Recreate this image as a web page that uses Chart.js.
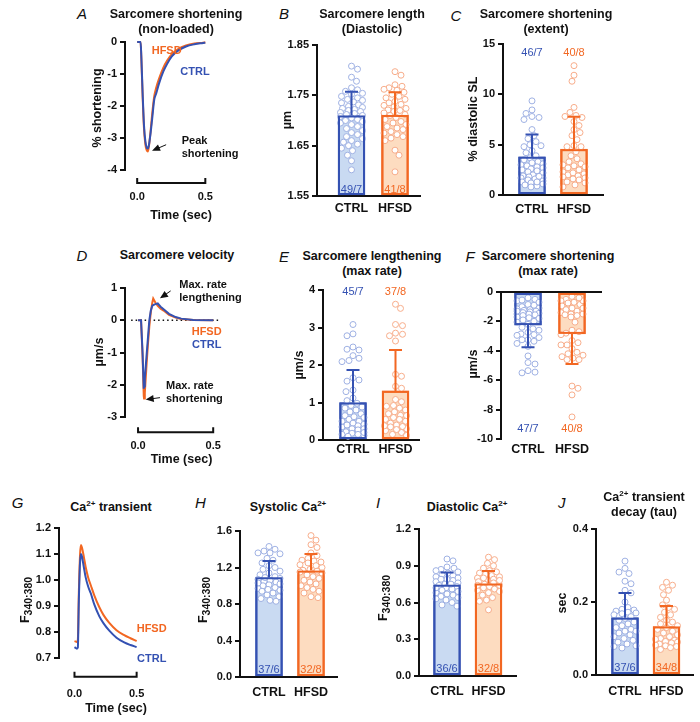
<!DOCTYPE html>
<html>
<head>
<meta charset="utf-8">
<script src="https://cdn.jsdelivr.net/npm/chart.js@4.4.1/dist/chart.umd.min.js"></script>
<style>
  body { margin: 0; width: 700px; height: 722px; position: relative; overflow: hidden; background: #fff;
         font-family: "Liberation Sans", Arial, Helvetica, sans-serif; color: #111; }
  canvas { position: absolute; }
  .t { position: absolute; z-index: 2; font-weight: bold; font-size: 12.5px; line-height: 15px; white-space: nowrap;
       text-align: center; transform: translate(-50%, -50%); }
  .L { position: absolute; z-index: 2; font-style: italic; font-size: 15px; transform: translate(-50%, -50%); }
  .yt { position: absolute; z-index: 2; font-weight: bold; font-size: 12.5px; white-space: nowrap;
        transform: translate(-50%, -50%) rotate(-90deg); }
  .an { position: absolute; z-index: 2; font-weight: bold; font-size: 11px; line-height: 13.3px; white-space: nowrap;
        transform: translateY(-50%); }
  .lb { position: absolute; z-index: 2; font-weight: bold; font-size: 11px; white-space: nowrap; transform: translate(-50%, -50%); }
  sup { font-size: 8px; line-height: 0; vertical-align: 5px; }
  sub { font-size: 10.5px; line-height: 0; vertical-align: -3px; }
  .ctrl { color: #3451b2; }
  .hfsd { color: #f26722; }
</style>
</head>
<body>

<script>
// ---------- data ----------
const groups = ['CTRL', 'HFSD'];

// A: sarcomere shortening trace (%)
const aTime = [0, 0.025, 0.03, 0.04, 0.05, 0.06, 0.07, 0.078, 0.085, 0.098, 0.11, 0.125, 0.14, 0.16, 0.192, 0.22, 0.254, 0.3, 0.358, 0.42, 0.483, 0.5];
const aCtrl = [0, 0, -0.4, -1.6, -2.6, -3.1, -3.3, -3.33, -3.25, -2.86, -2.4, -1.81, -1.6, -1.3, -0.92, -0.68, -0.45, -0.27, -0.14, -0.07, -0.03, -0.02];
const aHfsd = [0, 0, -0.45, -1.7, -2.7, -3.2, -3.38, -3.42, -3.3, -2.8, -2.25, -1.7, -1.42, -1.15, -0.8, -0.58, -0.38, -0.22, -0.11, -0.05, -0.02, -0.01];
const aTicks = [0, -1, -2, -3, -4];
const aArrow = [0.2125, -3.21, 0.109, -3.4];

// B: diastolic sarcomere length (µm)
const bTicks = [1.55, 1.65, 1.75, 1.85];
const bMean = [1.710, 1.711];
const bSd = [0.047, 0.045];
const bN = ['49/7', '41/8'];
const bCtrl = [1.808, 1.802, 1.786, 1.778, 1.765, 1.761, 1.758, 1.754, 1.752, 1.748, 1.745, 1.742, 1.740, 1.737, 1.735, 1.731, 1.728, 1.726, 1.724, 1.722, 1.720, 1.718, 1.716, 1.714, 1.712, 1.710, 1.708, 1.705, 1.702, 1.698, 1.695, 1.692, 1.688, 1.684, 1.680, 1.676, 1.672, 1.668, 1.664, 1.660, 1.657, 1.653, 1.650, 1.645, 1.640, 1.631, 1.620, 1.602, 1.700];
const bHfsd = [1.797, 1.790, 1.771, 1.768, 1.765, 1.762, 1.760, 1.756, 1.752, 1.748, 1.745, 1.742, 1.738, 1.735, 1.732, 1.730, 1.727, 1.724, 1.721, 1.718, 1.715, 1.712, 1.710, 1.706, 1.702, 1.698, 1.695, 1.692, 1.688, 1.685, 1.682, 1.678, 1.675, 1.672, 1.668, 1.665, 1.660, 1.641, 1.631, 1.598, 1.720];

// C: shortening extent (% diastolic SL)
const cTicks = [0, 5, 10, 15];
const cMean = [3.8, 4.55];
const cSd = [2.2, 3.23];
const cN = ['46/7', '40/8'];
const cCtrl = [9.35, 8.45, 8.1, 7.8, 7.7, 7.5, 6.5, 5.9, 5.6, 5.3, 5.0, 4.9, 4.8, 4.4, 4.2, 3.9, 3.7, 3.5, 3.3, 3.1, 3.0, 2.9, 2.7, 2.6, 2.5, 2.3, 2.2, 2.0, 1.9, 1.8, 1.7, 1.7, 1.6, 1.5, 1.4, 1.3, 1.2, 1.1, 1.0, 0.9, 0.8, 3.2, 2.8, 2.4, 1.85, 1.3];
const cHfsd = [12.85, 11.9, 11.3, 8.7, 8.2, 7.9, 7.8, 7.7, 7.3, 6.9, 6.5, 6.2, 5.9, 5.5, 4.9, 4.8, 4.8, 4.3, 3.9, 3.6, 3.3, 3.1, 3.0, 2.8, 2.7, 2.5, 2.3, 2.1, 2.0, 1.9, 1.8, 1.7, 1.5, 1.3, 1.2, 1.0, 0.8, 2.9, 2.2, 1.6];

// D: sarcomere velocity trace (µm/s)
const dTime = [0, 0.02, 0.03, 0.038, 0.04, 0.045, 0.055, 0.065, 0.075, 0.085, 0.095, 0.101, 0.115, 0.131, 0.15, 0.17, 0.206, 0.25, 0.287, 0.368, 0.5];
const dCtrl = [0, 0, -1.0, -2.12, -2.05, -1.8, -1.2, -0.6, 0, 0.3, 0.45, 0.47, 0.5, 0.52, 0.42, 0.34, 0.2, 0.1, 0.05, 0.01, 0];
const dHfsd = [0, 0, -1.1, -2.35, -2.43, -2.25, -1.5, -0.8, -0.2, 0.25, 0.55, 0.67, 0.55, 0.45, 0.36, 0.3, 0.17, 0.08, 0.04, 0.01, 0];
const dZero = [-0.046, 0.55];
const dTicks = [1, 0, -1, -2, -3];
const dArrowUp = [0.217, 0.91, 0.146, 0.68];
const dArrowDown = [0.146, -2.40, 0.051, -2.46];

// E: max lengthening rate (µm/s)
const eTicks = [0, 1, 2, 3, 4];
const eMean = [1.0, 1.31];
const eSd = [0.87, 1.09];
const eN = ['45/7', '37/8'];
const eCtrl = [3.08, 2.83, 2.78, 2.48, 2.42, 2.4, 2.25, 2.18, 2.12, 2.09, 1.66, 1.6, 1.57, 1.33, 1.29, 1.12, 1.05, 0.98, 0.92, 0.85, 0.8, 0.75, 0.7, 0.65, 0.6, 0.55, 0.5, 0.45, 0.42, 0.38, 0.35, 0.3, 0.27, 0.22, 0.18, 0.15, 0.12, 0.1, 0.62, 0.4, 0.3, 0.2, 0.88, 0.5, 0.15];
const eHfsd = [3.62, 3.51, 3.08, 3.05, 2.85, 2.82, 2.78, 2.64, 1.75, 1.7, 1.43, 1.38, 1.08, 1.02, 0.92, 0.85, 0.8, 0.75, 0.7, 0.65, 0.6, 0.55, 0.5, 0.45, 0.4, 0.35, 0.3, 0.25, 0.2, 0.15, 0.12, 0.66, 0.38, 0.36, 0.28, 0.9, 0.55];

// F: max shortening rate (µm/s)
const fTicks = [0, -2, -4, -6, -8, -10];
const fMean = [-2.25, -2.85];
const fSd = [1.5, 2.04];
const fN = ['47/7', '40/8'];
const fCtrl = [-0.4, -0.5, -0.6, -0.7, -0.85, -1.0, -1.1, -1.2, -1.25, -1.3, -1.35, -1.4, -1.45, -1.5, -1.55, -1.6, -1.7, -1.8, -1.9, -2.0, -2.05, -2.2, -2.4, -2.6, -2.75, -2.85, -2.95, -3.1, -3.25, -3.35, -3.5, -3.7, -4.35, -4.8, -4.9, -5.35, -5.45, -5.5, -1.15, -1.5, -0.55, -2.5, -3.25, -1.3, -0.9, -1.75, -2.9];
const fHfsd = [-0.3, -0.5, -0.6, -0.7, -0.75, -0.85, -0.95, -1.1, -1.2, -1.3, -1.4, -1.5, -1.55, -1.6, -1.7, -2.05, -2.6, -2.7, -2.8, -2.9, -3.3, -3.45, -3.6, -3.85, -4.1, -4.2, -4.3, -4.4, -4.5, -4.6, -4.6, -6.4, -6.55, -7.0, -8.5, -0.6, -1.5, -0.4, -1.1, -3.6];

// G: Ca2+ transient trace (F340:380)
const gTime = [0, 0.02, 0.027, 0.035, 0.045, 0.052, 0.06, 0.075, 0.09, 0.11, 0.131, 0.16, 0.2, 0.234, 0.28, 0.338, 0.4, 0.45, 0.5];
const gCtrl = [0.742, 0.736, 0.74, 0.92, 1.07, 1.1, 1.09, 1.05, 1.01, 0.975, 0.949, 0.905, 0.86, 0.833, 0.805, 0.778, 0.76, 0.75, 0.742];
const gHfsd = [0.765, 0.762, 0.77, 0.95, 1.1, 1.135, 1.125, 1.09, 1.05, 1.01, 0.98, 0.94, 0.895, 0.865, 0.835, 0.807, 0.788, 0.776, 0.765];
const gTicks = [0.7, 0.8, 0.9, 1.0, 1.1, 1.2];

// H: systolic Ca2+
const hTicks = [0, 0.4, 0.8, 1.2, 1.6];
const hMean = [1.093, 1.166];
const hSd = [0.177, 0.182];
const hN = ['37/6', '32/8'];
const hCtrl = [1.43, 1.4, 1.38, 1.36, 1.36, 1.35, 1.3, 1.28, 1.25, 1.22, 1.2, 1.18, 1.16, 1.14, 1.12, 1.1, 1.08, 1.07, 1.06, 1.05, 1.04, 1.02, 1.01, 1.0, 0.98, 0.97, 0.95, 0.94, 0.92, 0.9, 0.88, 0.86, 0.84, 0.83, 1.09, 0.96, 1.03];
const hHfsd = [1.55, 1.5, 1.45, 1.42, 1.36, 1.33, 1.3, 1.28, 1.27, 1.25, 1.23, 1.22, 1.2, 1.18, 1.17, 1.15, 1.14, 1.12, 1.1, 1.08, 1.06, 1.04, 1.02, 1.0, 0.98, 0.96, 0.94, 0.92, 0.88, 0.87, 1.16, 1.26];

// I: diastolic Ca2+
const iTicks = [0, 0.3, 0.6, 0.9, 1.2];
const iMean = [0.745, 0.755];
const iSd = [0.1, 0.102];
const iN = ['36/6', '32/8'];
const iCtrl = [0.955, 0.94, 0.89, 0.88, 0.87, 0.86, 0.85, 0.84, 0.83, 0.82, 0.81, 0.8, 0.79, 0.78, 0.77, 0.76, 0.75, 0.74, 0.73, 0.72, 0.71, 0.70, 0.69, 0.68, 0.67, 0.66, 0.65, 0.64, 0.63, 0.62, 0.6, 0.58, 0.57, 0.79, 0.75, 0.72];
const iHfsd = [0.97, 0.95, 0.92, 0.9, 0.88, 0.86, 0.85, 0.84, 0.83, 0.82, 0.81, 0.8, 0.79, 0.78, 0.77, 0.76, 0.75, 0.74, 0.73, 0.72, 0.71, 0.7, 0.69, 0.68, 0.66, 0.64, 0.62, 0.61, 0.54, 0.78, 0.74, 0.8];

// J: Ca2+ transient decay tau (sec)
const jTicks = [0, 0.2, 0.4];
const jMean = [0.157, 0.133];
const jSd = [0.068, 0.056];
const jN = ['37/6', '34/8'];
const jCtrl = [0.312, 0.292, 0.282, 0.278, 0.257, 0.25, 0.232, 0.225, 0.2, 0.185, 0.18, 0.178, 0.175, 0.172, 0.17, 0.165, 0.16, 0.155, 0.15, 0.145, 0.14, 0.135, 0.13, 0.125, 0.12, 0.115, 0.11, 0.105, 0.1, 0.095, 0.09, 0.085, 0.08, 0.078, 0.074, 0.168, 0.12];
const jHfsd = [0.254, 0.246, 0.24, 0.232, 0.22, 0.205, 0.192, 0.185, 0.18, 0.172, 0.165, 0.158, 0.15, 0.145, 0.14, 0.135, 0.13, 0.125, 0.12, 0.115, 0.11, 0.105, 0.1, 0.095, 0.092, 0.09, 0.088, 0.085, 0.082, 0.08, 0.078, 0.075, 0.07, 0.098];

// ---------- styling / layout ----------
Chart.defaults.font.family = '"Liberation Sans", Arial, Helvetica, sans-serif';
Chart.defaults.color = '#111';
Chart.defaults.animation = false;

const INK = '#111';
const BLUE = '#3451b2', ORANGE = '#f26722';
const BLUE_FILL = '#c9daf2', ORANGE_FILL = '#fddcc0';
const BLUE_DOT = '#9fb1e3', ORANGE_DOT = '#f7ad8b';
const YW = 42, XH = 50, PT = 10, PR = 12;

// plot-area boxes in page pixels (x0/x1 axis span, yt/yb top/bottom, c0/c1 bar centres, t0/t1 = time 0 / 0.5)
const boxA = {x0: 125, x1: 222, yt: 42, yb: 170, t0: 139.3, t1: 219.3};
const boxB = {x0: 317, x1: 420, yt: 45, yb: 196, c0: 351.5, c1: 395};
const boxC = {x0: 503, x1: 603, yt: 44, yb: 195, c0: 532, c1: 574};
const boxD = {x0: 125, x1: 232, yt: 288, yb: 417, t0: 139.3, t1: 221.7};
const boxE = {x0: 323, x1: 419, yt: 290, yb: 440, c0: 353, c1: 395.5};
const boxF = {x0: 501, x1: 602, yt: 292, yb: 439, c0: 528, c1: 572};
const boxG = {x0: 59, x1: 162, yt: 528, yb: 658, t0: 79, t1: 159.3};
const boxH = {x0: 240, x1: 337, yt: 531, yb: 677, c0: 269, c1: 311};
const boxI = {x0: 419, x1: 516, yt: 529, yb: 676, c0: 447, c1: 488.5};
const boxJ = {x0: 596, x1: 693, yt: 529, yb: 675, c0: 625, c1: 666.5};

function canvasFor(box) {
  const c = document.createElement('canvas');
  c.width = Math.round(box.x1 - box.x0 + YW + PR);
  c.height = Math.round(box.yb - box.yt + PT + XH);
  c.style.left = (box.x0 - YW) + 'px';
  c.style.top = (box.yt - PT) + 'px';
  document.body.appendChild(c);
  return c;
}

function yScale(ticks, dec, zeroLine) {
  return {
    min: Math.min(...ticks), max: Math.max(...ticks),
    beginAtZero: false,
    afterFit: s => { s.width = YW; },
    afterBuildTicks: s => { s.ticks = ticks.map(v => ({value: v})); },
    ticks: {callback: v => Number(v).toFixed(dec), font: {size: 11, weight: 'bold'}, color: INK, padding: 3},
    grid: {
      drawOnChartArea: !!zeroLine,
      color: c => (zeroLine && c.tick && c.tick.value === 0) ? INK : 'rgba(0,0,0,0)',
      lineWidth: 2, tickLength: 5, tickWidth: 2, tickColor: INK
    },
    border: {color: INK, width: 2}
  };
}

// horizontal spread of dots so they do not sit on top of each other
function swarm(vals, pxPerY, halfW) {
  const d = 6.2;
  const order = vals.map((v, i) => i).sort((a, b) => vals[b] - vals[a]);
  const placed = [];
  const out = new Array(vals.length);
  order.forEach((i, n) => {
    const y = vals[i] * pxPerY;
    let best = 0, bestCost = Infinity;
    for (let s = 0; s <= halfW; s += 1) {
      const cands = n % 2 ? [s, -s] : [-s, s];
      for (const x of cands) {
        let cost = 0;
        for (const p of placed) {
          const dist = Math.hypot(p.x - x, p.y - y);
          if (dist < d) cost += d - dist;
        }
        if (cost < bestCost - 1e-6) { bestCost = cost; best = x; }
        if (cost === 0) break;
      }
      if (bestCost === 0) break;
    }
    placed.push({x: best, y});
    out[i] = best;
  });
  return out;
}

function barPanel(box, ticks, dec, means, sds, pts, counts, countY, xPad, zeroLine) {
  const unit = box.c1 - box.c0;
  const yMin = Math.min(...ticks), yMax = Math.max(...ticks);
  const pxPerY = (box.yb - box.yt) / (yMax - yMin);
  const datasets = [{
    type: 'bar', order: 2,
    data: means.map((m, i) => ({x: i, y: m})),
    base: yMin > 0 ? yMin : 0,
    backgroundColor: [BLUE_FILL, ORANGE_FILL],
    borderColor: [BLUE, ORANGE], borderWidth: 2, borderSkipped: false,
    barThickness: 27
  }];
  pts.forEach((vals, g) => {
    const off = swarm(vals, pxPerY, 11);
    datasets.push({
      type: 'scatter', order: 1, clip: false,
      data: vals.map((v, k) => ({x: g + off[k] / unit, y: v})),
      pointRadius: 3, pointBorderWidth: 1, pointHoverRadius: 3,
      pointBackgroundColor: '#fff', pointBorderColor: g ? ORANGE_DOT : BLUE_DOT
    });
  });
  const extras = {
    id: 'extras',
    afterDatasetsDraw(chart) {
      const {ctx} = chart, xs = chart.scales.x, ys = chart.scales.y;
      const meta = chart.getDatasetMeta(0);
      ctx.save();
      means.forEach((m, i) => {
        const col = i ? ORANGE : BLUE;
        const bar = meta.data[i];
        const top = Math.min(bar.y, bar.base), bot = Math.max(bar.y, bar.base);
        ctx.strokeStyle = col; ctx.lineWidth = 2;
        ctx.strokeRect(bar.x - bar.width / 2 + 1, top + 1, bar.width - 2, bot - top - 2);
        const x = xs.getPixelForValue(i);
        const sign = m < 0 ? -1 : 1;
        const y0 = ys.getPixelForValue(m), y1 = ys.getPixelForValue(m + sign * sds[i]);
        ctx.beginPath();
        ctx.moveTo(x, y0); ctx.lineTo(x, y1);
        ctx.moveTo(x - 6.5, y1); ctx.lineTo(x + 6.5, y1);
        ctx.stroke();
        ctx.fillStyle = col;
        ctx.font = '11px "Liberation Sans", Arial, sans-serif';
        ctx.textAlign = 'center'; ctx.textBaseline = 'middle';
        ctx.fillText(counts[i], x, ys.getPixelForValue(countY));
      });
      ctx.restore();
    }
  };
  new Chart(canvasFor(box), {
    type: 'bar',
    data: {datasets},
    options: {
      responsive: false,
      layout: {padding: {top: PT, right: PR, left: 0, bottom: 0}},
      plugins: {legend: {display: false}, tooltip: {enabled: false}},
      scales: {
        x: {
          type: 'linear', offset: false,
          min: -(box.c0 - box.x0) / unit, max: (box.x1 - box.c0) / unit,
          afterFit: s => { s.height = XH; },
          afterBuildTicks: s => { s.ticks = [{value: 0}, {value: 1}]; },
          ticks: {callback: v => groups[Math.round(v)], font: {size: 12.5, weight: 'bold'}, color: INK, padding: xPad, maxRotation: 0, autoSkip: false},
          grid: {display: false, drawTicks: false, offset: false},
          border: {display: !zeroLine, color: INK, width: 2}
        },
        y: yScale(ticks, dec, zeroLine)
      }
    },
    plugins: [extras]
  });
}

function linePanel(box, time, ctrl, hfsd, ticks, dec, opt) {
  const pxPerT = (box.t1 - box.t0) / 0.5;
  const datasets = [
    {data: time.map((t, i) => ({x: t, y: ctrl[i]})), borderColor: BLUE, borderWidth: 2},
    {data: time.map((t, i) => ({x: t, y: hfsd[i]})), borderColor: ORANGE, borderWidth: 2}
  ];
  if (opt.zero) datasets.push({data: opt.zero.map(t => ({x: t, y: 0})), borderColor: INK, borderWidth: 1.5, borderDash: [1.5, 3]});
  datasets.forEach(d => Object.assign(d, {pointRadius: 0, tension: opt.tension, cubicInterpolationMode: opt.mono ? 'monotone' : 'default', clip: false, fill: false}));
  const deco = {
    id: 'deco',
    afterDatasetsDraw(chart) {
      const {ctx, chartArea} = chart, xs = chart.scales.x, ys = chart.scales.y;
      ctx.save();
      ctx.strokeStyle = INK; ctx.fillStyle = INK; ctx.lineWidth = 2;
      // detached time-axis bracket
      const yb = chartArea.bottom + opt.brOff;
      const a = xs.getPixelForValue(0), b = xs.getPixelForValue(0.5);
      ctx.beginPath();
      ctx.moveTo(a, yb - 5); ctx.lineTo(a, yb); ctx.lineTo(b, yb); ctx.lineTo(b, yb - 5);
      ctx.stroke();
      // annotation arrows [tail t, tail y, tip t, tip y]
      ctx.lineWidth = 1;
      (opt.arrows || []).forEach(ar => {
        const x0 = xs.getPixelForValue(ar[0]), y0 = ys.getPixelForValue(ar[1]);
        const x1 = xs.getPixelForValue(ar[2]), y1 = ys.getPixelForValue(ar[3]);
        const ang = Math.atan2(y1 - y0, x1 - x0), L = 8, W = 3.5;
        ctx.beginPath(); ctx.moveTo(x0, y0); ctx.lineTo(x1 - Math.cos(ang) * L * 0.7, y1 - Math.sin(ang) * L * 0.7); ctx.stroke();
        ctx.beginPath();
        ctx.moveTo(x1, y1);
        ctx.lineTo(x1 - L * Math.cos(ang) + W * Math.sin(ang), y1 - L * Math.sin(ang) - W * Math.cos(ang));
        ctx.lineTo(x1 - L * Math.cos(ang) - W * Math.sin(ang), y1 - L * Math.sin(ang) + W * Math.cos(ang));
        ctx.closePath(); ctx.fill();
      });
      ctx.restore();
    }
  };
  new Chart(canvasFor(box), {
    type: 'line',
    data: {datasets},
    options: {
      responsive: false,
      layout: {padding: {top: PT, right: PR, left: 0, bottom: 0}},
      plugins: {legend: {display: false}, tooltip: {enabled: false}},
      scales: {
        x: {
          type: 'linear', offset: false,
          min: (box.x0 - box.t0) / pxPerT, max: (box.x1 - box.t0) / pxPerT,
          afterFit: s => { s.height = XH; },
          afterBuildTicks: s => { s.ticks = [{value: 0}, {value: 0.5}]; },
          ticks: {callback: v => Number(v).toFixed(1), font: {size: 11, weight: 'bold'}, color: INK, padding: opt.xPad, maxRotation: 0, autoSkip: false},
          grid: {display: false, drawTicks: false},
          border: {display: false}
        },
        y: yScale(ticks, dec, false)
      }
    },
    plugins: [deco]
  });
}

// ---------- panels ----------
linePanel(boxA, aTime, aCtrl, aHfsd, aTicks, 0, {tension: 0.4, mono: true, xPad: 20.7, brOff: 13, arrows: [aArrow]});
barPanel(boxB, bTicks, 2, bMean, bSd, [bCtrl, bHfsd], bN, 1.562, 4.8, false);
barPanel(boxC, cTicks, 0, cMean, cSd, [cCtrl, cHfsd], cN, 14.1, 6.8, false);
linePanel(boxD, dTime, dCtrl, dHfsd, dTicks, 0, {tension: 0, xPad: 22, brOff: 15.3, zero: dZero, arrows: [dArrowUp, dArrowDown]});
barPanel(boxE, eTicks, 0, eMean, eSd, [eCtrl, eHfsd], eN, 3.95, 2.5, false);
barPanel(boxF, fTicks, 0, fMean, fSd, [fCtrl, fHfsd], fN, -9.32, 3.5, true);
linePanel(boxG, gTime, gCtrl, gHfsd, gTicks, 1, {tension: 0.4, mono: true, xPad: 29.4, brOff: 18.7});
barPanel(boxH, hTicks, 1, hMean, hSd, [hCtrl, hHfsd], hN, 0.072, 7.8, false);
barPanel(boxI, iTicks, 1, iMean, iSd, [iCtrl, iHfsd], iN, 0.055, 8.2, false);
barPanel(boxJ, jTicks, 1, jMean, jSd, [jCtrl, jHfsd], jN, 0.019, 8.9, false);
</script>

<!-- panel letters -->
<div class="L" style="left:82px;top:13px">A</div>
<div class="L" style="left:284px;top:13px">B</div>
<div class="L" style="left:456px;top:15px">C</div>
<div class="L" style="left:82px;top:255px">D</div>
<div class="L" style="left:284px;top:256px">E</div>
<div class="L" style="left:470px;top:256px">F</div>
<div class="L" style="left:17.5px;top:502px">G</div>
<div class="L" style="left:200.5px;top:502px">H</div>
<div class="L" style="left:378px;top:502px">I</div>
<div class="L" style="left:561.7px;top:502px">J</div>

<!-- panel titles -->
<div class="t" style="left:176px;top:21.5px">Sarcomere shortening<br>(non-loaded)</div>
<div class="t" style="left:372px;top:21.5px">Sarcomere length<br>(Diastolic)</div>
<div class="t" style="left:546px;top:22px">Sarcomere shortening<br>(extent)</div>
<div class="t" style="left:177px;top:255px">Sarcomere velocity</div>
<div class="t" style="left:372px;top:264px">Sarcomere lengthening<br>(max rate)</div>
<div class="t" style="left:548px;top:264px">Sarcomere shortening<br>(max rate)</div>
<div class="t" style="left:111px;top:506.5px">Ca<sup>2+</sup> transient</div>
<div class="t" style="left:288px;top:506.5px">Systolic Ca<sup>2+</sup></div>
<div class="t" style="left:467px;top:506.5px">Diastolic Ca<sup>2+</sup></div>
<div class="t" style="left:644px;top:504.5px">Ca<sup>2+</sup> transient<br>decay (tau)</div>

<!-- axis titles -->
<div class="yt" style="left:96.7px;top:108px">% shortening</div>
<div class="yt" style="left:287px;top:120px">µm</div>
<div class="yt" style="left:472.7px;top:119px">% diastolic SL</div>
<div class="yt" style="left:99.3px;top:352px">µm/s</div>
<div class="yt" style="left:299.3px;top:365px">µm/s</div>
<div class="yt" style="left:473.3px;top:364px">µm/s</div>
<div class="yt" style="left:25px;top:600px">F<sub>340:380</sub></div>
<div class="yt" style="left:203.3px;top:600px">F<sub>340:380</sub></div>
<div class="yt" style="left:383.3px;top:598px">F<sub>340:380</sub></div>
<div class="yt" style="left:561.7px;top:603px">sec</div>
<div class="t" style="left:181px;top:215px">Time (sec)</div>
<div class="t" style="left:181.5px;top:459px">Time (sec)</div>
<div class="t" style="left:116px;top:708px">Time (sec)</div>

<!-- trace annotations -->
<div class="lb hfsd" style="left:166.7px;top:50px">HFSD</div>
<div class="lb ctrl" style="left:195px;top:70.7px">CTRL</div>
<div class="an" style="left:181.7px;top:146.7px">Peak<br>shortening</div>
<div class="an" style="left:179.3px;top:291px">Max. rate<br>lengthening</div>
<div class="lb hfsd" style="left:206.7px;top:330.7px">HFSD</div>
<div class="lb ctrl" style="left:206.7px;top:344px">CTRL</div>
<div class="an" style="left:166px;top:391.7px">Max. rate<br>shortening</div>
<div class="lb hfsd" style="left:151.7px;top:628px">HFSD</div>
<div class="lb ctrl" style="left:151.7px;top:657.7px">CTRL</div>
</body>
</html>
